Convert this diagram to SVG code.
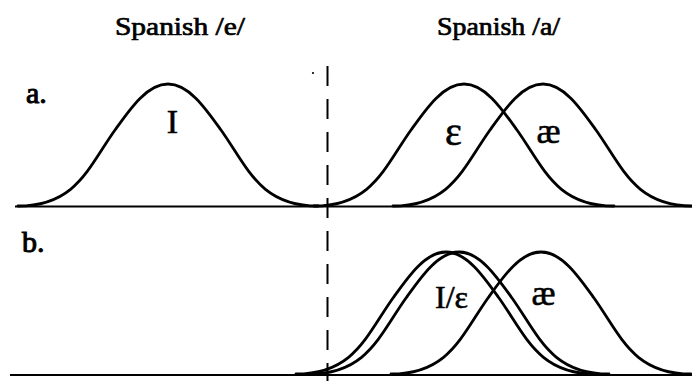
<svg xmlns="http://www.w3.org/2000/svg" xmlns:xlink="http://www.w3.org/1999/xlink" width="692" height="381" viewBox="0 0 692 381">
<style>
.curve{fill:none;stroke:#000;stroke-width:2.8;stroke-linejoin:round;stroke-linecap:round}
.base{fill:none;stroke:#000;stroke-width:2}
.dash{fill:none;stroke:#000;stroke-width:2;stroke-dasharray:20 13}
.title{font-family:"Liberation Serif","DejaVu Serif",serif;font-weight:normal;font-size:25px;fill:#000;stroke:#000;stroke-width:0.7}
.lab{font-family:"Liberation Serif","DejaVu Serif",serif;font-weight:normal;font-size:30px;fill:#000;stroke:#000;stroke-width:1}
.ipa{font-family:"Liberation Serif","DejaVu Serif",serif;fill:#000;text-anchor:middle;stroke:#000;stroke-width:0.6}
</style>
<defs>
<path id="bell" d="M -150 0 C -92 0 -80 -38 -53 -76 C -38 -97 -21 -122 0 -122 C 21 -122 38 -97 53 -76 C 80 -38 92 0 150 0"/>
</defs>
<rect width="692" height="381" fill="#fff"/>
<g id="titles">
<text class="title" x="115" y="35" textLength="130" lengthAdjust="spacingAndGlyphs">Spanish /e/</text>
<text class="title" x="437" y="35" textLength="123" lengthAdjust="spacingAndGlyphs">Spanish /a/</text>
</g>
<g id="row-labels">
<text class="lab" x="26" y="103">a.</text>
<text class="lab" x="22" y="252">b.</text>
</g>
<g id="axes">
<line class="base" x1="15" y1="206.5" x2="692" y2="206.5"/>
<line class="base" x1="10" y1="375" x2="692" y2="375"/>
<line class="dash" x1="327.5" y1="66" x2="327.5" y2="381"/>
<circle cx="313" cy="73" r="1.1" fill="#000"/>
</g>
<g id="a-I">
<use xlink:href="#bell" class="curve" transform="translate(168,206)"/>
<text class="ipa" x="172.5" y="133" font-size="34">I</text>
</g>
<g id="a-epsilon">
<use xlink:href="#bell" class="curve" transform="translate(464,206)"/>
<text class="ipa" x="453.5" y="145" font-size="40">ε</text>
</g>
<g id="a-ae">
<use xlink:href="#bell" class="curve" transform="translate(543,206)"/>
<text class="ipa" x="548.5" y="143" font-size="36" stroke-width="1.2">æ</text>
</g>
<g id="b-I-epsilon">
<use xlink:href="#bell" class="curve" transform="translate(446,374)"/>
<use xlink:href="#bell" class="curve" transform="translate(459,374)"/>
<text class="ipa" x="451.5" y="308" font-size="32">I/ε</text>
</g>
<g id="b-ae">
<use xlink:href="#bell" class="curve" transform="translate(541,374)"/>
<text class="ipa" x="543.5" y="305" font-size="36" stroke-width="1.2">æ</text>
</g>
</svg>
